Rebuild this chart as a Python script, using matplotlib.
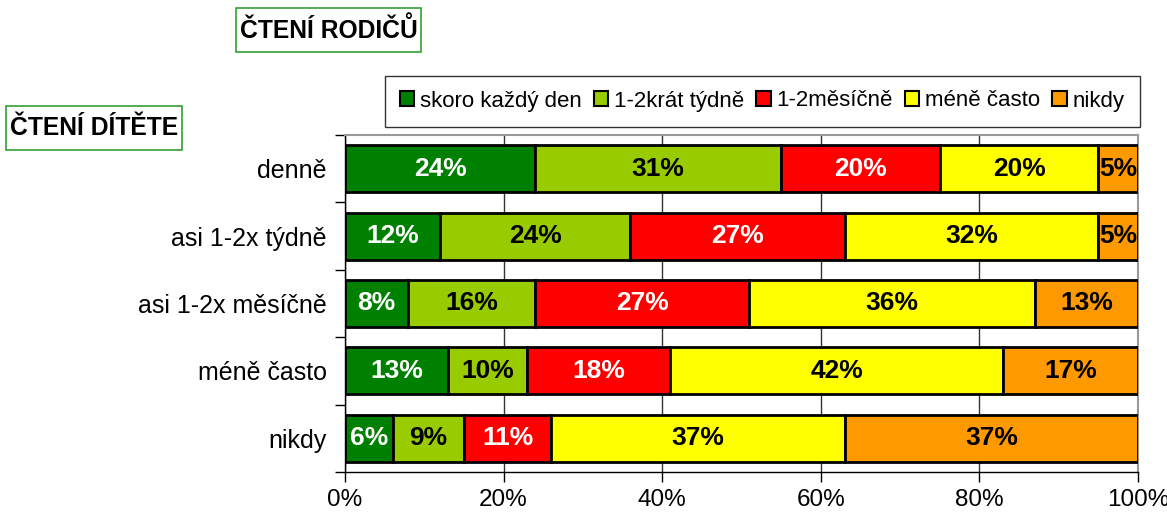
import matplotlib
matplotlib.use("Agg")
import matplotlib.pyplot as plt
from matplotlib.patches import Patch, Rectangle
import numpy as np

plt.rcParams['font.family'] = ['Liberation Sans', 'DejaVu Sans']

categories = ["denně", "asi 1-2x týdně", "asi 1-2x měsíčně", "méně často", "nikdy"]
series_names = ["skoro každý den", "1-2krát týdně", "1-2měsíčně", "méně často", "nikdy"]
s_daily = [24, 12, 8, 13, 6]
s_weekly = [31, 24, 16, 10, 9]
s_monthly = [20, 27, 27, 18, 11]
s_less = [20, 32, 36, 42, 37]
s_never = [5, 5, 13, 17, 37]
xticklabels = ["0%", "20%", "40%", "60%", "80%", "100%"]

series = [s_daily, s_weekly, s_monthly, s_less, s_never]
colors = ["#008000", "#99CC00", "#FF0000", "#FFFF00", "#FF9900"]
text_colors = ["white", "black", "white", "black", "black"]

W, H = 1167, 513
fig = plt.figure(figsize=(W/100, H/100), dpi=100)
ax = fig.add_axes([345/W, 1-472/H, (1138-345)/W, (472-135)/H])

y = np.arange(len(categories))
left = np.zeros(len(categories))
for vals, c, tc in zip(series, colors, text_colors):
    vals = np.array(vals, dtype=float)
    ax.barh(y, vals, left=left, height=0.7, color=c, edgecolor="black", linewidth=2, zorder=3)
    for yi, v, l in zip(y, vals, left):
        ax.text(l + v/2, yi, f"{int(v)}%", ha="center", va="center", color=tc,
                fontsize=19, fontweight="bold", zorder=4)
    left += vals

ax.set_xlim(0, 100)
ax.set_ylim(len(categories) - 0.5, -0.5)
ax.set_xticks(np.linspace(0, 100, 6))
ax.set_xticklabels(xticklabels, fontsize=17.5)
ax.set_yticks(y)
ax.set_yticklabels(categories, fontsize=18)
ax.tick_params(axis="y", length=0, pad=13)
ax.set_yticks(np.arange(-0.5, len(categories)), minor=True)
ax.tick_params(axis="y", which="minor", length=7, width=1, direction="out")
ax.tick_params(axis="x", length=7, width=1, direction="out", pad=5)
ax.xaxis.grid(True, color="#333333", linewidth=1, zorder=0)
ax.set_axisbelow(True)
for s in ["top", "right"]:
    ax.spines[s].set_color("#999999")
    ax.spines[s].set_linewidth(1.5)
for s in ["left", "bottom"]:
    ax.spines[s].set_color("black")
    ax.spines[s].set_linewidth(1)

def px_rect(x0, y0, x1, y1, ec, lw):
    r = Rectangle((x0/W, 1-y1/H), (x1-x0)/W, (y1-y0)/H, transform=fig.transFigure,
                  facecolor="white", edgecolor=ec, linewidth=lw, zorder=0)
    fig.add_artist(r)

# legend frame
px_rect(385, 76, 1140, 127, "#333333", 1)
handles = [Patch(facecolor=c, edgecolor="black", linewidth=1.5) for c in colors]
leg = fig.legend(handles, series_names, ncol=5, loc="center",
                 bbox_to_anchor=(762/W, 1-101/H), fontsize=16,
                 frameon=False, handlelength=0.65, handleheight=0.65,
                 handletextpad=0.25, columnspacing=0.55, borderpad=0.3, borderaxespad=0)

# title boxes
px_rect(236, 8, 421, 52, "#33A033", 1.2)
px_rect(6, 106, 182, 150, "#33A033", 1.2)
fig.text(329/W, 1-30/H, "ČTENÍ RODIČŮ", ha="center", va="center",
         fontsize=17.7, fontweight="bold")
fig.text(94/W, 1-128/H, "ČTENÍ DÍTĚTE", ha="center", va="center",
         fontsize=17.7, fontweight="bold")

fig.savefig("out.png", dpi=100)
